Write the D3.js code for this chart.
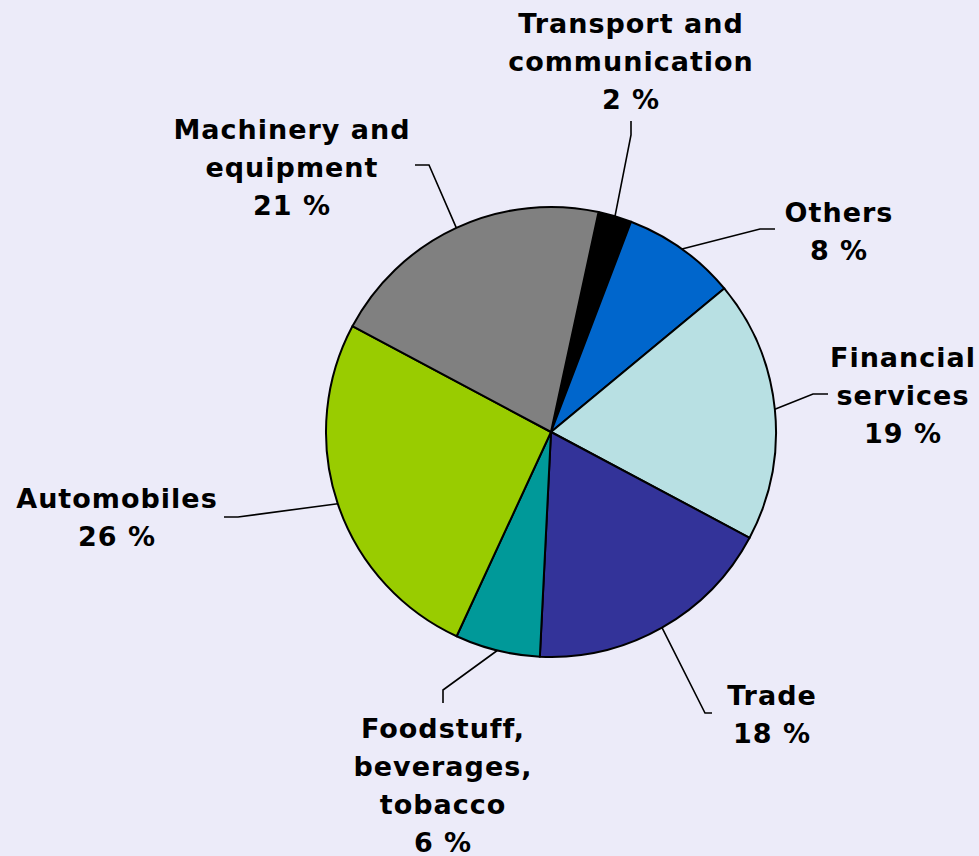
<!DOCTYPE html>
<html>
<head>
<meta charset="utf-8">
<script src="https://cdn.jsdelivr.net/npm/d3@7"></script>
<style>
  body { margin: 0; background: #ECEBF9; }
  text { font-family: "DejaVu Sans", Verdana, sans-serif; font-weight: bold; }
</style>
</head>
<body>
<script>
// data, clockwise from the top
const categories = ["Transport and communication", "Others", "Financial services", "Trade",
                    "Foodstuff, beverages, tobacco", "Automobiles", "Machinery and equipment"];
const shares = [2.4, 8.2, 18.8, 18.0, 6.1, 25.9, 20.6];
const labelLines = [
    ["Transport and", "communication"],
    ["Others"],
    ["Financial", "services"],
    ["Trade"],
    ["Foodstuff,", "beverages,", "tobacco"],
    ["Automobiles"],
    ["Machinery and", "equipment"]
];
const colors = ["#000000", "#0066CC", "#B8E0E3", "#333399", "#009999", "#99CC00", "#808080"];

function main(){
    const width = 979;
    const height = 856;
    const cx = 551, cy = 432, r = 225;
    const lineH = 38;

    // label placement: text centre x, first baseline, leader elbow and end
    const layout = [
        {x: 631, y: 33,  elbow: [631, 135], end: [631, 121]},
        {x: 839, y: 222, elbow: [760, 229], end: [775, 229]},
        {x: 903, y: 367, elbow: [813, 394], end: [828, 394]},
        {x: 772, y: 705, elbow: [705, 713], end: [712, 713]},
        {x: 443, y: 738, elbow: [443, 690], end: [443, 703]},
        {x: 117, y: 508, elbow: [238, 517], end: [224, 517]},
        {x: 292, y: 139, elbow: [429, 165], end: [415, 165]}
    ];

    const svg = d3.select("body").append("svg")
        .attr("width", width)
        .attr("height", height);

    const data = categories.map(function(c, i){
        return {name: c, value: shares[i], lines: labelLines[i], color: colors[i], lay: layout[i]};
    });

    const start = 12.2 * Math.PI / 180;
    const pie = d3.pie().sort(null).value(d => d.value)
        .startAngle(start).endAngle(start + 2 * Math.PI);
    const arcs = pie(data);

    const arc = d3.arc().innerRadius(0).outerRadius(r);

    const g = svg.append("g").attr("transform", `translate(${cx},${cy})`);

    g.selectAll("path.slice")
      .data(arcs)
      .enter().append("path")
      .attr("class", "slice")
      .attr("d", arc)
      .attr("fill", d => d.data.color)
      .attr("stroke", "#000")
      .attr("stroke-width", 2)
      .attr("stroke-linejoin", "round");

    // leader lines
    svg.selectAll("polyline.leader")
      .data(arcs)
      .enter().append("polyline")
      .attr("class", "leader")
      .attr("points", function(d){
          const a = (d.startAngle + d.endAngle) / 2;
          const p0 = [cx + r * Math.sin(a), cy - r * Math.cos(a)];
          return [p0, d.data.lay.elbow, d.data.lay.end].map(p => p.join(",")).join(" ");
      })
      .attr("fill", "none")
      .attr("stroke", "#000")
      .attr("stroke-width", 1.6);

    // labels
    const labels = svg.selectAll("text.label")
      .data(arcs)
      .enter().append("text")
      .attr("class", "label")
      .attr("text-anchor", "middle")
      .attr("font-size", 27)
      .attr("letter-spacing", 1)
      .attr("fill", "#000");

    labels.each(function(d){
        const t = d3.select(this);
        const lines = d.data.lines.concat([Math.round(d.data.value) + " %"]);
        lines.forEach(function(l, i){
            t.append("tspan")
              .attr("x", d.data.lay.x)
              .attr("y", d.data.lay.y + i * lineH)
              .text(l);
        });
    });
}
main();
</script>
</body>
</html>
